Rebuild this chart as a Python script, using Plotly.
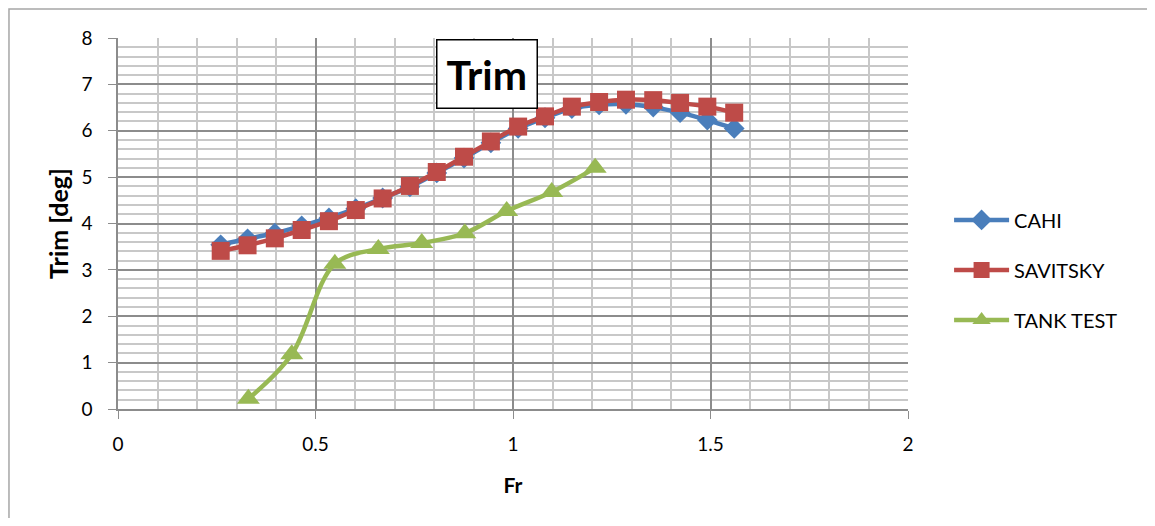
import plotly.graph_objects as go

fr_calc = [0.26, 0.328, 0.397, 0.465, 0.534, 0.602, 0.670, 0.739, 0.807, 0.876,
           0.944, 1.013, 1.081, 1.149, 1.218, 1.286, 1.355, 1.423, 1.492, 1.560]
cahi = [3.54, 3.67, 3.79, 3.95, 4.12, 4.32, 4.55, 4.79, 5.09, 5.41,
        5.74, 6.05, 6.28, 6.48, 6.56, 6.57, 6.51, 6.39, 6.23, 6.05]
savitsky = [3.41, 3.53, 3.68, 3.86, 4.05, 4.29, 4.54, 4.81, 5.11, 5.44,
            5.77, 6.09, 6.31, 6.52, 6.62, 6.67, 6.66, 6.60, 6.52, 6.39]
fr_tank = [0.33, 0.44, 0.549, 0.659, 0.769, 0.878, 0.984, 1.098, 1.208]
tank_test = [0.22, 1.18, 3.13, 3.45, 3.58, 3.79, 4.27, 4.68, 5.20]

x_ticks = [0, 0.5, 1, 1.5, 2]
x_tick_labels = ["0", "0.5", "1", "1.5", "2"]
y_ticks = [0, 1, 2, 3, 4, 5, 6, 7, 8]

FONT = "Lato, 'Open Sans', sans-serif"

fig = go.Figure()
fig.add_trace(go.Scatter(
    x=fr_calc, y=cahi, name="CAHI", mode="lines+markers", legendgroup="a",
    line=dict(color="#4A7EBB", width=4.5, shape="spline"),
    marker=dict(symbol="diamond", size=16, color="#4A7EBB")))
fig.add_trace(go.Scatter(
    x=fr_calc, y=savitsky, name="SAVITSKY", mode="lines+markers", legendgroup="b",
    line=dict(color="#BE4B48", width=4.5, shape="spline"),
    marker=dict(symbol="square", size=18, color="#BE4B48")))
fig.add_trace(go.Scatter(
    x=fr_tank, y=tank_test, name="TANK TEST", mode="lines+markers", legendgroup="c",
    line=dict(color="#98B954", width=4.5, shape="spline"),
    marker=dict(symbol="triangle-up", size=20, color="#98B954")))

fig.update_xaxes(
    range=[0, 2], tickvals=x_ticks, ticktext=x_tick_labels,
    showgrid=True, gridcolor="#8c8c8c", gridwidth=1.5,
    minor=dict(dtick=0.1, showgrid=True, gridcolor="#c8c8c8", gridwidth=1.5),
    showline=True, linecolor="#8c8c8c", linewidth=1.5,
    ticks="outside", ticklen=8, tickcolor="#8c8c8c",
    ticklabelstandoff=9, automargin=False,
    tickfont=dict(family=FONT, size=19, color="black"),
    title=dict(text="<b>Fr</b>", font=dict(family=FONT, size=21, color="black"), standoff=25),
    zeroline=False)
fig.update_yaxes(
    range=[0, 8], tickvals=y_ticks,
    showgrid=True, gridcolor="#8c8c8c", gridwidth=1.5,
    minor=dict(dtick=0.2, showgrid=True, gridcolor="#c8c8c8", gridwidth=1.5),
    showline=True, linecolor="#8c8c8c", linewidth=1.5,
    ticks="outside", ticklen=8, tickcolor="#8c8c8c",
    ticklabelstandoff=12, automargin=False,
    tickfont=dict(family=FONT, size=19, color="black"),
    title=dict(text="<b>Trim [deg]</b>", font=dict(family=FONT, size=25, color="black"), standoff=6),
    zeroline=False)

fig.add_annotation(
    text="<b>Trim</b>", xref="paper", yref="paper", x=0.4665, y=0.903,
    xanchor="center", yanchor="middle", showarrow=False,
    font=dict(family=FONT, size=41, color="black"),
    bgcolor="white", bordercolor="black", borderwidth=1.5, borderpad=9)

# chart-area frame (page body adds an 8px offset)
fig.add_shape(type="rect", xref="paper", yref="paper",
              x0=-0.138, x1=1.4, y0=-0.4, y1=1.078,
              line=dict(color="#a6a6a6", width=1.5), layer="below")

fig.update_layout(
    width=1139, height=510,
    margin=dict(l=110, r=239, t=30, b=109, autoexpand=False),
    paper_bgcolor="white", plot_bgcolor="white",
    font=dict(family=FONT, color="black"),
    legend=dict(x=1.052, y=0.375, xanchor="left", yanchor="middle",
                font=dict(family=FONT, size=20, color="black"),
                itemwidth=55, tracegroupgap=21, bgcolor="rgba(0,0,0,0)"),
)

fig.write_html("out.html")
